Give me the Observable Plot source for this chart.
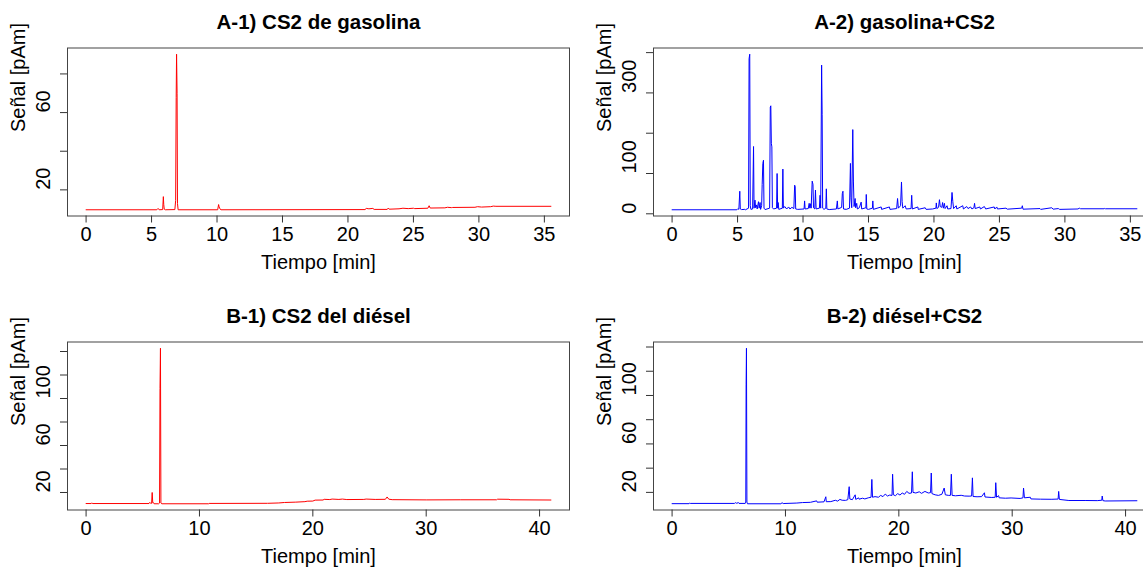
<!DOCTYPE html>
<html>
<head>
<meta charset="utf-8">
<script src="https://cdn.jsdelivr.net/npm/d3@7"></script>
<script src="https://cdn.jsdelivr.net/npm/@observablehq/plot@0.6"></script>
<style>
  html, body { margin: 0; padding: 0; background: #ffffff; overflow: hidden; }
  #fig { position: relative; width: 1143px; height: 567px; overflow: hidden; background: #ffffff; }
  .panel { position: absolute; }
</style>
</head>
<body>
<div id="fig"></div>
<script>
// ---- Data: [time (min), signal (pAm)] ----
const gasolinaCS2 = [
  [0,9.7],[5.4,9.7],[5.5,10.4],[5.58,9.7],[5.85,9.8],[5.9,16.5],[5.93,12.5],[5.97,10.0],[6.05,9.7],
  [6.78,9.8],[6.84,14.5],[6.88,67.8],[6.91,90.2],[6.95,70],[6.98,13],[7.03,9.7],
  [10.05,9.7],[10.12,12.4],[10.16,11.2],[10.22,10.2],[10.3,9.7],
  [21.3,9.8],[21.4,10.4],[21.6,10.2],[21.9,10.4],[22.0,9.9],[23.0,9.9],[23.08,10.6],[23.15,10.0],
  [23.9,10.2],[24.2,10.5],[24.6,10.3],[25.0,10.5],[25.1,10.3],[26.1,10.5],[26.2,11.8],[26.28,10.6],
  [27.4,10.7],[27.6,11.0],[27.9,10.8],[28.0,10.9],[29.7,11.0],[29.9,11.3],[30.2,11.1],[30.9,11.3],
  [31.1,11.6],[31.3,11.5],[35.5,11.5]
];
const gasolinaMasCS2 = [
  [0,10],[4.95,10],[5.03,13],[5.1,11],[5.17,56],[5.21,12],[5.3,10.5],[5.55,11],[5.6,10],
  [5.84,14],[5.88,385],[5.93,396],[5.97,20],[6.02,11],[6.15,12],[6.22,167],[6.26,14],
  [6.33,34],[6.38,15],[6.45,22],[6.5,12],[6.6,30],[6.65,14],[6.72,28],[6.76,11],
  [6.84,20],[6.88,73],[6.93,125],[6.98,133],[7.02,14],[7.1,10.5],
  [7.45,14],[7.5,265],[7.54,268],[7.58,175],[7.62,166],[7.66,15],[7.75,12],
  [7.98,14],[8.02,100],[8.06,14],[8.1,28],[8.15,11],[8.42,14],[8.46,111],[8.5,14],
  [8.6,18],[8.75,12],[8.9,17],[9.0,12],[9.15,16],[9.3,13],[9.36,71],[9.4,68],[9.44,12],[9.6,11],
  [10.08,12],[10.12,32],[10.16,12],[10.4,13],[10.47,26],[10.52,14],[10.58,25],[10.62,14],
  [10.7,81],[10.76,73],[10.8,15],[10.9,12],[10.95,59],[11.0,12],[11.25,14],[11.3,46],[11.35,14],
  [11.42,369],[11.46,247],[11.5,14],[11.6,11],[11.74,14],[11.78,62],[11.82,12],[12.0,10.5],
  [12.55,12],[12.62,32],[12.66,12],[12.95,16],[13.0,50],[13.05,56],[13.09,12],[13.3,11],
  [13.55,14],[13.62,125],[13.66,40],[13.72,15],[13.8,209],[13.85,79],[13.9,18],[13.98,38],[14.02,15],
  [14.1,26],[14.15,12],[14.3,15],[14.44,29],[14.48,12],[14.8,15],[14.83,48],[14.87,12],[15.0,11],
  [15.3,14],[15.33,32],[15.37,11],[15.97,17],[16.0,11],[16.6,17],[16.64,11],
  [17.15,13],[17.22,38],[17.28,14],[17.45,20],[17.52,79],[17.57,30],[17.62,14],[17.8,20],[17.88,12],
  [18.25,13],[18.3,46],[18.35,12],[18.77,17],[18.8,11],[19.33,15],[19.4,11],[19.9,12],
  [20.15,14],[20.18,27],[20.22,13],[20.35,16],[20.42,35],[20.48,18],[20.6,16],[20.66,28],[20.72,14],
  [20.8,26],[20.85,13],[21.0,20],[21.05,12],[21.3,13],[21.38,53],[21.44,30],[21.5,13],
  [21.7,20],[21.75,12],[22.2,20],[22.25,12],[22.5,18],[22.6,13],[22.8,17],[22.9,12],
  [23.05,15],[23.1,26],[23.15,13],[23.5,17],[23.55,12],[23.85,18],[23.95,12],
  [24.6,17],[24.65,12],[24.8,17],[24.85,12],[25.5,14],[25.6,11.5],[26.7,14],[26.75,20],[26.8,11.5],
  [28.1,13],[28.15,11],[29.0,15],[29.1,11.5],[29.5,13],[29.6,11],[31.0,12],[31.1,14],[31.2,12.5],
  [33.0,12.5],[33.05,13.5],[33.1,12.5],[35.5,12.5]
];
const dieselCS2 = [
  [0,10.6],[0.45,10.6],[0.5,11],[0.6,10.6],[5.55,10.6],[5.62,11.6],[5.7,10.7],[5.78,10.8],
  [5.83,20],[5.88,11.2],[5.95,11.3],[6.0,10.4],[6.4,10.4],[6.48,11],[6.52,108.5],[6.56,142.8],
  [6.6,11],[6.68,10.4],[10.8,10.4],[10.85,10.7],[16.0,10.8],[17.0,11.1],[17.5,11.5],[18.5,11.8],
  [19.3,12.2],[19.5,12.6],[20.0,12.7],[20.2,13.5],[20.9,13.6],[21.0,14.2],[21.5,14.0],[21.7,14.4],
  [22.3,14.1],[22.6,14.4],[23.0,14.0],[24.5,14.1],[24.7,14.4],[25.5,14.1],[26.4,14.2],[26.55,16.2],
  [26.7,14.3],[27.0,13.9],[30.0,13.7],[33.0,13.8],[36.2,13.8],[36.3,14.3],[37.3,14.2],[37.4,13.8],
  [41,13.6]
];
const dieselMasCS2 = [
  [0,10.7],[1.5,10.7],[1.55,11.1],[1.6,10.9],[5.5,10.9],[5.6,11.5],[5.7,11],[5.85,11.6],[5.9,10.9],
  [6.45,10.9],[6.5,12],[6.53,108.8],[6.56,139],[6.6,12],[6.65,10.6],[9.6,10.6],[9.7,11.5],[9.8,10.8],
  [11.0,11.2],[11.5,11.6],[12.2,11.8],[12.75,13],[12.8,11.9],[13.4,12.2],[13.56,16.4],[13.6,12.3],
  [14.0,12.4],[14.4,13.5],[14.6,12.8],[14.8,14.2],[15.0,13.5],[15.3,13.4],[15.5,14],[15.62,24.7],
  [15.68,14.5],[15.9,14.0],[16.15,18],[16.2,14.2],[16.45,15.5],[16.5,14.4],[16.8,15.2],[17.0,14.6],
  [17.3,15.5],[17.55,16],[17.62,30.7],[17.68,16],[17.9,16.5],[18.2,16],[18.4,17.5],[18.6,16.5],
  [18.8,18.6],[19.0,17],[19.2,17.8],[19.4,17.5],[19.45,35],[19.52,18],[19.7,17.3],[19.9,19],
  [20.1,17.8],[20.3,19.5],[20.5,18.4],[20.7,20.8],[20.9,19.2],[21.12,19.5],[21.19,37],[21.25,20],
  [21.5,19.5],[21.8,20.5],[22.0,19.2],[22.3,20.8],[22.6,19.5],[22.8,19.8],[22.86,36],[22.92,19],
  [23.2,18],[23.5,17.5],[23.8,18.5],[24.0,23.6],[24.1,18],[24.4,17.5],[24.56,17.6],[24.63,35],
  [24.7,17.5],[25.0,17.2],[25.5,17.6],[25.8,17.0],[26.2,16.9],[26.42,17],[26.49,32],[26.55,16.6],
  [26.9,16.4],[27.3,16.5],[27.55,19.7],[27.6,16.2],[28.2,15.8],[28.5,16],[28.55,28],[28.62,16],
  [28.8,17.3],[28.85,15.5],[29.4,15.2],[29.9,15.4],[30.7,15],[30.95,15.5],[31.0,23.6],[31.08,15.5],
  [31.6,16],[31.65,14.6],[32.5,14.4],[33.5,14.3],[34.05,14.5],[34.1,20.8],[34.16,14.2],[35.0,13.3],
  [36.5,13.3],[37.5,13.2],[37.9,13.5],[37.94,17],[38.0,13.2],[38.2,12.9],[41,13.1]
];

const titles = ["A-1) CS2 de gasolina", "A-2) gasolina+CS2", "B-1) CS2 del diésel", "B-2) diésel+CS2"];
const xLabel = "Tiempo [min]";
const yLabel = "Señal [pAm]";
const xTicksA = [0, 5, 10, 15, 20, 25, 30, 35];
const xTicksB = [0, 10, 20, 30, 40];
const yTicksA1 = [20, 40, 60, 80];       const yLabelsA1 = [20, 60];
const yTicksA2 = [0, 100, 200, 300, 400]; const yLabelsA2 = [0, 100, 300];
const yTicksB = [20, 40, 60, 80, 100, 120, 140]; const yLabelsB = [20, 60, 100];

// ---- Drawing ----
const FONT = "'Liberation Sans', Arial, sans-serif";
const fig = document.getElementById("fig");

function rPad(values) {
  const lo = d3.min(values), hi = d3.max(values), r = hi - lo;
  return [lo - 0.04 * r, hi + 0.04 * r];
}

function panel(series, {title, color, xTicks, yTicks, yLabels, left, top}) {
  const data = series.map(([t, v]) => ({t, v}));
  const plot = Plot.plot({
    width: 586, height: 294,
    marginLeft: 67, marginRight: 17, marginTop: 47.5, marginBottom: 78.5,
    style: {fontFamily: FONT, fontSize: "20px", color: "#000", background: "transparent"},
    x: {domain: rPad(data.map(d => d.t))},
    y: {domain: rPad(data.map(d => d.v))},
    marks: [
      Plot.line(data, {x: "t", y: "v", stroke: color, strokeWidth: 1}),
      Plot.frame({stroke: "#444", strokeWidth: 1}),
      Plot.axisX({ticks: xTicks, tickSize: 7, tickFormat: () => "", label: null, stroke: "#333"}),
      Plot.axisY({ticks: yTicks, tickSize: 7, tickFormat: () => "", label: null, stroke: "#333"}),
      Plot.text(xTicks, {x: d => d, text: d => String(d), frameAnchor: "bottom", dy: 18.5, lineAnchor: "middle", fontSize: 20, fill: "#000"}),
      Plot.text(yLabels, {y: d => d, text: d => String(d), frameAnchor: "left", dx: -23.5, rotate: -90, lineAnchor: "middle", fontSize: 20, fill: "#000"}),
      Plot.text([xLabel], {text: d => d, frameAnchor: "bottom", dy: 46.5, lineAnchor: "middle", fontSize: 20, fill: "#000"}),
      Plot.text([yLabel], {text: d => d, frameAnchor: "left", dx: -48.5, rotate: -90, lineAnchor: "middle", fontSize: 20, fill: "#000"}),
      Plot.text([title], {text: d => d, frameAnchor: "top", dy: -26, lineAnchor: "middle", fontSize: 20.5, fontWeight: "bold", fill: "#000"})
    ]
  });
  plot.classList.add("panel");
  plot.style.left = left + "px";
  plot.style.top = top + "px";
  fig.appendChild(plot);
}

panel(gasolinaCS2,    {title: titles[0], color: "#ff0000", xTicks: xTicksA, yTicks: yTicksA1, yLabels: yLabelsA1, left: 0,   top: 0});
panel(gasolinaMasCS2, {title: titles[1], color: "#0000ff", xTicks: xTicksA, yTicks: yTicksA2, yLabels: yLabelsA2, left: 586, top: 0});
panel(dieselCS2,      {title: titles[2], color: "#ff0000", xTicks: xTicksB, yTicks: yTicksB,  yLabels: yLabelsB,  left: 0,   top: 294});
panel(dieselMasCS2,   {title: titles[3], color: "#0000ff", xTicks: xTicksB, yTicks: yTicksB,  yLabels: yLabelsB,  left: 586, top: 294});
</script>
</body>
</html>
